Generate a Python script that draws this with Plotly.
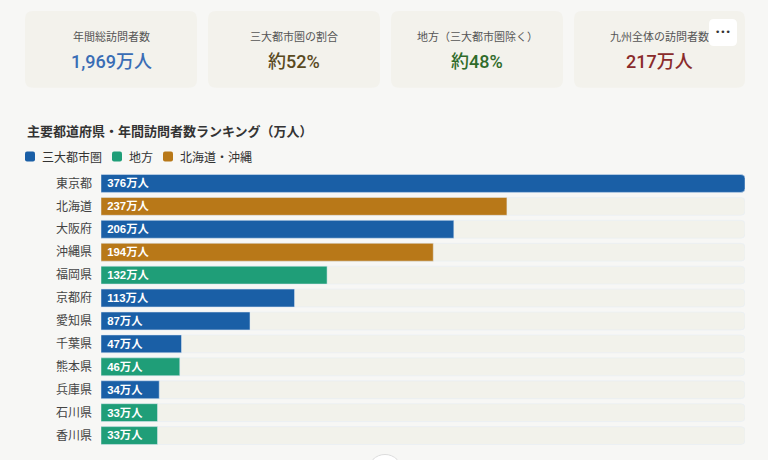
# %%
# import packages
import plotly.graph_objects as go

# %%
# data
prefectures = ["東京都", "北海道", "大阪府", "沖縄県", "福岡県", "京都府",
               "愛知県", "千葉県", "熊本県", "兵庫県", "石川県", "香川県"]
visitors = [376, 237, 206, 194, 132, 113, 87, 47, 46, 34, 33, 33]
regions = ["三大都市圏", "北海道・沖縄", "三大都市圏", "北海道・沖縄", "地方", "三大都市圏",
           "三大都市圏", "三大都市圏", "地方", "三大都市圏", "地方", "地方"]
region_names = ["三大都市圏", "地方", "北海道・沖縄"]
region_colors = ["#1a5fa6", "#1f9e78", "#b87818"]

card_titles = ["年間総訪問者数", "三大都市圏の割合", "地方（三大都市圏除く）", "九州全体の訪問者数"]
card_values = ["1,969万人", "約52%", "約48%", "217万人"]
card_colors = ["#3a6db5", "#5a4a1f", "#2f6b2a", "#8a2b2b"]

# %%
# pixel -> paper helpers (plot area is 101..745 x 171.5..447.5)
L, R, T, B = 101, 745, 171.5, 447.5
FONT = "Noto Sans CJK JP, Noto Sans, sans-serif"
NUM_FONT = "Roboto, Noto Sans CJK JP, sans-serif"


def px(x):
    return (x - L) / (R - L)


def py(y):
    return (B - y) / (B - T)


def rounded_rect(x0, y0, x1, y1, r):
    pts = [
        f"M {px(x0 + r)},{py(y0)}",
        f"L {px(x1 - r)},{py(y0)}",
        f"Q {px(x1)},{py(y0)} {px(x1)},{py(y0 + r)}",
        f"L {px(x1)},{py(y1 - r)}",
        f"Q {px(x1)},{py(y1)} {px(x1 - r)},{py(y1)}",
        f"L {px(x0 + r)},{py(y1)}",
        f"Q {px(x0)},{py(y1)} {px(x0)},{py(y1 - r)}",
        f"L {px(x0)},{py(y0 + r)}",
        f"Q {px(x0)},{py(y0)} {px(x0 + r)},{py(y0)}",
        "Z",
    ]
    return " ".join(pts)


def label(x, y, text, size, color, anchor="center", family=FONT, weight="normal"):
    return dict(x=px(x), y=py(y), xref="paper", yref="paper", text=text, showarrow=False,
                xanchor=anchor, yanchor="middle",
                font=dict(size=size, color=color, family=family, weight=weight))


# %%
# traces: background track + one trace per region
data = [
    go.Bar(
        y=prefectures,
        x=[max(visitors)] * len(prefectures),
        orientation="h",
        marker=dict(color="#f2f2eb"),
        hoverinfo="skip",
        showlegend=False,
    )
]
for name, color in zip(region_names, region_colors):
    ys = [p for p, r in zip(prefectures, regions) if r == name]
    xs = [v for v, r in zip(visitors, regions) if r == name]
    data.append(
        go.Bar(
            y=ys,
            x=xs,
            name=name,
            orientation="h",
            marker=dict(color=color),
            text=[f" {v}万人" for v in xs],
            textposition="inside",
            insidetextanchor="start",
            textfont=dict(color="white", size=11.5, family="Liberation Sans, Noto Sans CJK JP", weight="bold"),
            showlegend=False,
        )
    )

# %%
# cards, legend and decorations
shapes = []
annotations = []
card_x = [(25, 197), (208, 380), (391, 563), (574, 745)]
for (x0, x1), title, value, color in zip(card_x, card_titles, card_values, card_colors):
    shapes.append(dict(type="path", xref="paper", yref="paper", path=rounded_rect(x0, 10, x1, 87, 8),
                       fillcolor="#f3f2ec", line=dict(width=0), layer="below"))
    cx = (x0 + x1) / 2
    annotations.append(label(cx, 35, title, 11, "#555555"))
    annotations.append(label(cx, 61, value, 18, color, family=NUM_FONT, weight=500))

# "..." button
shapes.append(dict(type="path", xref="paper", yref="paper", path=rounded_rect(709, 18, 737, 45, 5),
                   fillcolor="white", line=dict(width=0)))
annotations.append(label(723, 31, "•••", 9, "#333333", family="DejaVu Sans"))

# chart title
annotations.append(label(25, 130, "<b>主要都道府県・年間訪問者数ランキング（万人）</b>", 13, "#333333", "left"))

# legend
leg_x = [25, 112, 163]
for x0, name, color in zip(leg_x, region_names, region_colors):
    shapes.append(dict(type="path", xref="paper", yref="paper", path=rounded_rect(x0, 151, x0 + 10, 161, 2),
                       fillcolor=color, line=dict(width=0)))
    annotations.append(label(x0 + 15, 156, name, 12, "#333333", "left"))

# partial scroll button at the bottom
shapes.append(dict(type="circle", xref="paper", yref="paper", x0=px(368), x1=px(402), y0=py(489), y1=py(455),
                   fillcolor="white", line=dict(color="#dddddd", width=1)))

# %%
# layout
layout = go.Layout(
    width=768,
    height=460,
    barmode="overlay",
    bargap=0.22,
    barcornerradius=4,
    paper_bgcolor="#f7f7f5",
    plot_bgcolor="#f7f7f5",
    margin=dict(l=L, r=768 - R, t=T, b=460 - B),
    font=dict(family=FONT),
    xaxis=dict(range=[0, max(visitors)], visible=False, fixedrange=True),
    yaxis=dict(
        categoryorder="array",
        categoryarray=prefectures,
        autorange="reversed",
        showgrid=False,
        zeroline=False,
        ticks="",
        ticklabelstandoff=8,
        tickfont=dict(size=12, color="#444444", family=FONT),
        fixedrange=True,
    ),
    uniformtext=dict(minsize=11, mode="show"),
    shapes=shapes,
    annotations=annotations,
    showlegend=False,
)

# %%
# create fig
fig = go.Figure(data=data, layout=layout)
fig.write_html(
    "out.html",
    config=dict(displayModeBar=False),
    post_script="document.body.style.margin='0';document.body.style.background='#f7f7f5';",
)
